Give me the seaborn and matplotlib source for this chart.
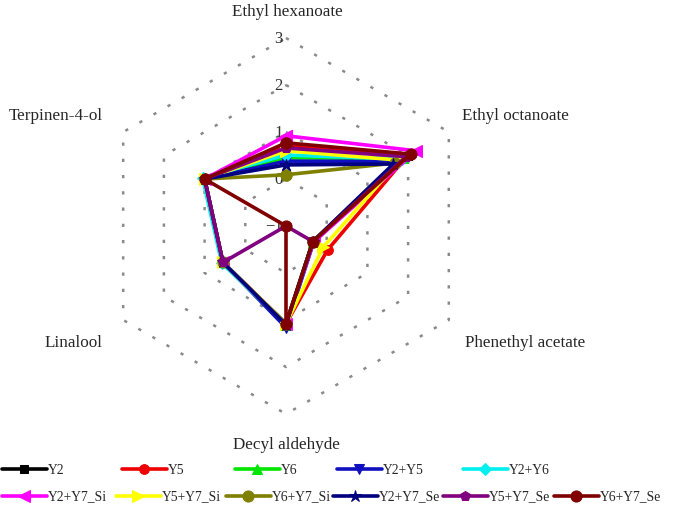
import numpy as np
import pandas as pd
import matplotlib
matplotlib.use("Agg")
import matplotlib.pyplot as plt
import seaborn as sns

# ---------------- data ----------------
categories = ["Ethyl hexanoate", "Ethyl octanoate", "Phenethyl acetate",
              "Decyl aldehyde", "Linalool", "Terpinen-4-ol"]
series_names = ["Y2", "Y5", "Y6", "Y2+Y5", "Y2+Y6",
                "Y2+Y7_Si", "Y5+Y7_Si", "Y6+Y7_Si", "Y2+Y7_Se", "Y5+Y7_Se", "Y6+Y7_Se"]
Y2        = [0.70, 2.00, -0.34, 1.08, 0.55, 1.00]
Y5        = [0.74, 1.98,  0.02, 1.08, 0.55, 1.00]
Y6        = [0.45, 1.88, -0.34, 1.10, 0.55, 1.00]
Y2_Y5     = [0.38, 1.75, -0.32, 1.16, 0.55, 1.00]
Y2_Y6     = [0.51, 1.85, -0.34, 1.08, 0.58, 1.05]
Y2_Y7_Si  = [0.92, 2.20, -0.32, 1.08, 0.55, 1.00]
Y5_Y7_Si  = [0.60, 1.80, -0.09, 1.08, 0.55, 1.00]
Y6_Y7_Si  = [0.09, 1.68, -0.34, 1.08, 0.55, 1.00]
Y2_Y7_Se  = [0.30, 1.64, -0.34, 1.10, 0.55, 1.00]
Y5_Y7_Se  = [0.66, 1.95, -0.34, -1.00, 0.55, 1.00]
Y6_Y7_Se  = [0.77, 2.06, -0.34, 1.08, -1.00, 1.00]
series_values = [Y2, Y5, Y6, Y2_Y5, Y2_Y6, Y2_Y7_Si, Y5_Y7_Si, Y6_Y7_Si,
                 Y2_Y7_Se, Y5_Y7_Se, Y6_Y7_Se]
radial_ticks = [-1, 0, 1, 2, 3]
radial_tick_labels = ["\u22121", "0", "1", "2", "3"]

# ---------------- style ----------------
colors = ["#000000", "#ee0000", "#00e600", "#1010c0", "#00f0f0",
          "#ff00ff", "#ffff00", "#808000", "#000080", "#800080", "#800000"]
markers = ["s", "o", "^", "v", "D", "<", ">", "o", "*", "p", "o"]
msizes = [6, 7, 7, 7, 6, 8, 8, 8, 9, 7, 8]

sns.set_style("white")
plt.rcParams["font.family"] = ["Liberation Serif", "DejaVu Serif"]

W, H = 685, 514
S = 47.0          # pixels per radial unit
CX, CY = 286, 226  # centre in pixels from top-left
rmin = radial_ticks[0]

fig = plt.figure(figsize=(W / 100, H / 100), dpi=100)
ax = fig.add_axes([0, 0, 1, 1])
ax.set_xlim(-CX / S, (W - CX) / S)
ax.set_ylim(-(H - CY) / S, CY / S)
ax.axis("off")

n = len(categories)
theta = np.deg2rad(90 - 60 * np.arange(n))
theta_c = np.append(theta, theta[0])

# grid hexagons
for t in radial_ticks[1:]:
    r = t - rmin
    ax.plot(r * np.cos(theta_c), r * np.sin(theta_c), color="#8a8a8a",
            lw=1.8, ls=(0, (1.3, 5.2)), zorder=1)

for t, lab in zip(radial_ticks, radial_tick_labels):
    r = t - rmin
    ax.text(-0.07, r - 0.02, lab, ha="right", va="center", fontsize=12,
            color="#333333", zorder=2)

# series
for name, vals, c, m, ms in zip(series_names, series_values, colors, markers, msizes):
    v = np.append(np.array(vals), vals[0]) - rmin
    df = pd.DataFrame({"x": v * np.cos(theta_c), "y": v * np.sin(theta_c)})
    sns.lineplot(data=df, x="x", y="y", sort=False, estimator=None, color=c,
                 marker=m, markersize=ms, markeredgecolor=c, linewidth=2.6,
                 label=name, ax=ax, zorder=3)

# category labels (pixel positions)
lab_pos = [(287, 12, "center"), (462, 116, "left"), (465, 343, "left"),
           (286, 445, "center"), (103, 343, "right"), (103, 116, "right")]
for cat, (px, py, ha) in zip(categories, lab_pos):
    fig.text(px / W, 1 - py / H, cat, ha=ha, va="center", fontsize=12.3)

# legend: one entry per position, two rows (5 + 6 entries)
handles, labels = ax.get_legend_handles_labels()
if ax.get_legend() is not None:
    ax.get_legend().remove()
leg_pos = [(2, 470), (122, 470), (235, 470), (337, 470), (463, 470),
           (2, 497), (116, 497), (226, 497), (333, 497), (443, 497), (554, 497)]
for h, l, (px, py) in zip(handles, labels, leg_pos):
    fig.legend([h], [l], loc="center left", bbox_to_anchor=(px / W, 1 - py / H),
               frameon=False, fontsize=9.8, handlelength=3.3, handletextpad=0.1,
               borderaxespad=0, borderpad=0, numpoints=1)

fig.savefig("out.png", dpi=100)
